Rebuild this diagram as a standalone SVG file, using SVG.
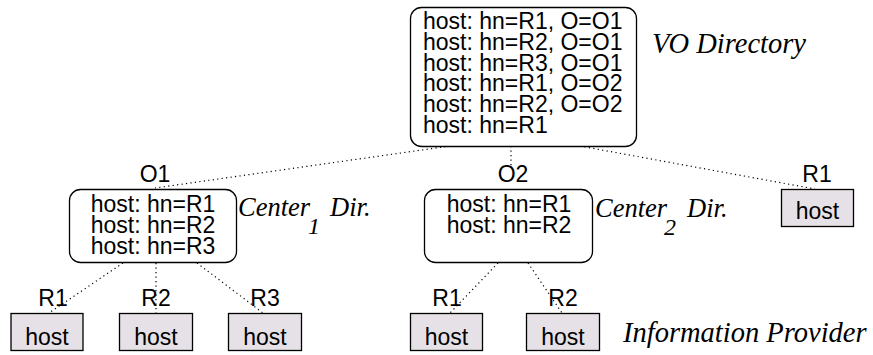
<svg xmlns="http://www.w3.org/2000/svg" width="873" height="355" viewBox="0 0 873 355">
<style>
.dir{fill:#ffffff;stroke:#000;stroke-width:1.3}
.host{fill:#e6e1e6;stroke:#000;stroke-width:1.3}
.t{font-family:"Liberation Sans",Arial,sans-serif;font-size:23px;fill:#000}
.c{text-anchor:middle}
.i{font-family:"Liberation Serif","Times New Roman",serif;font-style:italic;font-size:28.5px;fill:#000}
.ci{font-family:"Liberation Serif","Times New Roman",serif;font-style:italic;font-size:26.5px;fill:#000}
.sub{font-family:"Liberation Serif","Times New Roman",serif;font-style:italic;font-size:24px;fill:#000}
.dot{fill:none;stroke:#000;stroke-width:1.2;stroke-dasharray:1.2 3.3}
</style>
<rect width="873" height="355" fill="#fff"/>
<g id="connectors">
<line class="dot" x1="450" y1="146" x2="155" y2="188"/>
<line class="dot" x1="511" y1="146" x2="511" y2="166"/>
<line class="dot" x1="580" y1="146" x2="815" y2="189"/>
<line class="dot" x1="123" y1="263" x2="49" y2="313"/>
<line class="dot" x1="156" y1="263" x2="156" y2="313"/>
<line class="dot" x1="197" y1="263" x2="263" y2="313"/>
<line class="dot" x1="498" y1="263" x2="450" y2="313"/>
<line class="dot" x1="528" y1="263" x2="562" y2="313"/>
</g>
<g id="vo-directory">
<rect class="dir" x="410.5" y="7.5" width="226" height="139" rx="11"/>
<text class="t" x="423" y="29">host: hn=R1, O=O1</text>
<text class="t" x="423" y="49.8">host: hn=R2, O=O1</text>
<text class="t" x="423" y="70.6">host: hn=R3, O=O1</text>
<text class="t" x="423" y="91.4">host: hn=R1, O=O2</text>
<text class="t" x="423" y="112.2">host: hn=R2, O=O2</text>
<text class="t" x="423" y="133">host: hn=R1</text>
<text class="i" x="652" y="53">VO Directory</text>
</g>
<g id="center1">
<text class="t c" x="155" y="182">O1</text>
<rect class="dir" x="69.5" y="189.5" width="167" height="73" rx="11"/>
<text class="t c" x="153" y="212">host: hn=R1</text>
<text class="t c" x="153" y="233">host: hn=R2</text>
<text class="t c" x="153" y="254">host: hn=R3</text>
<text class="ci" x="238" y="216">Center</text>
<text class="sub" x="308" y="234">1</text>
<text class="ci" x="330" y="216">Dir.</text>
</g>
<g id="center2">
<text class="t c" x="513" y="182">O2</text>
<rect class="dir" x="424.5" y="189.5" width="168" height="73" rx="11"/>
<text class="t c" x="509" y="212">host: hn=R1</text>
<text class="t c" x="509" y="233">host: hn=R2</text>
<text class="ci" x="595" y="217">Center</text>
<text class="sub" x="664" y="235">2</text>
<text class="ci" x="687" y="217">Dir.</text>
</g>
<g id="host-vo-r1">
<text class="t c" x="817" y="182">R1</text>
<rect class="host" x="781.5" y="189.5" width="72" height="37"/>
<text class="t c" x="817.5" y="219">host</text>
</g>
<g id="host-c1-r1">
<text class="t c" x="53" y="306">R1</text>
<rect class="host" x="11" y="313.5" width="72" height="37"/>
<text class="t c" x="47" y="345">host</text>
</g>
<g id="host-c1-r2">
<text class="t c" x="156" y="306">R2</text>
<rect class="host" x="119.5" y="313.5" width="73" height="37"/>
<text class="t c" x="156" y="345">host</text>
</g>
<g id="host-c1-r3">
<text class="t c" x="265" y="306">R3</text>
<rect class="host" x="228.5" y="313.5" width="73" height="37"/>
<text class="t c" x="265" y="345">host</text>
</g>
<g id="host-c2-r1">
<text class="t c" x="447" y="306">R1</text>
<rect class="host" x="410.5" y="313.5" width="72" height="37"/>
<text class="t c" x="446.5" y="345">host</text>
</g>
<g id="host-c2-r2">
<text class="t c" x="563" y="306">R2</text>
<rect class="host" x="526.5" y="313.5" width="73" height="37"/>
<text class="t c" x="563" y="345">host</text>
</g>
<g id="info-provider">
<text class="i" x="623" y="342">Information Provider</text>
</g>
</svg>
